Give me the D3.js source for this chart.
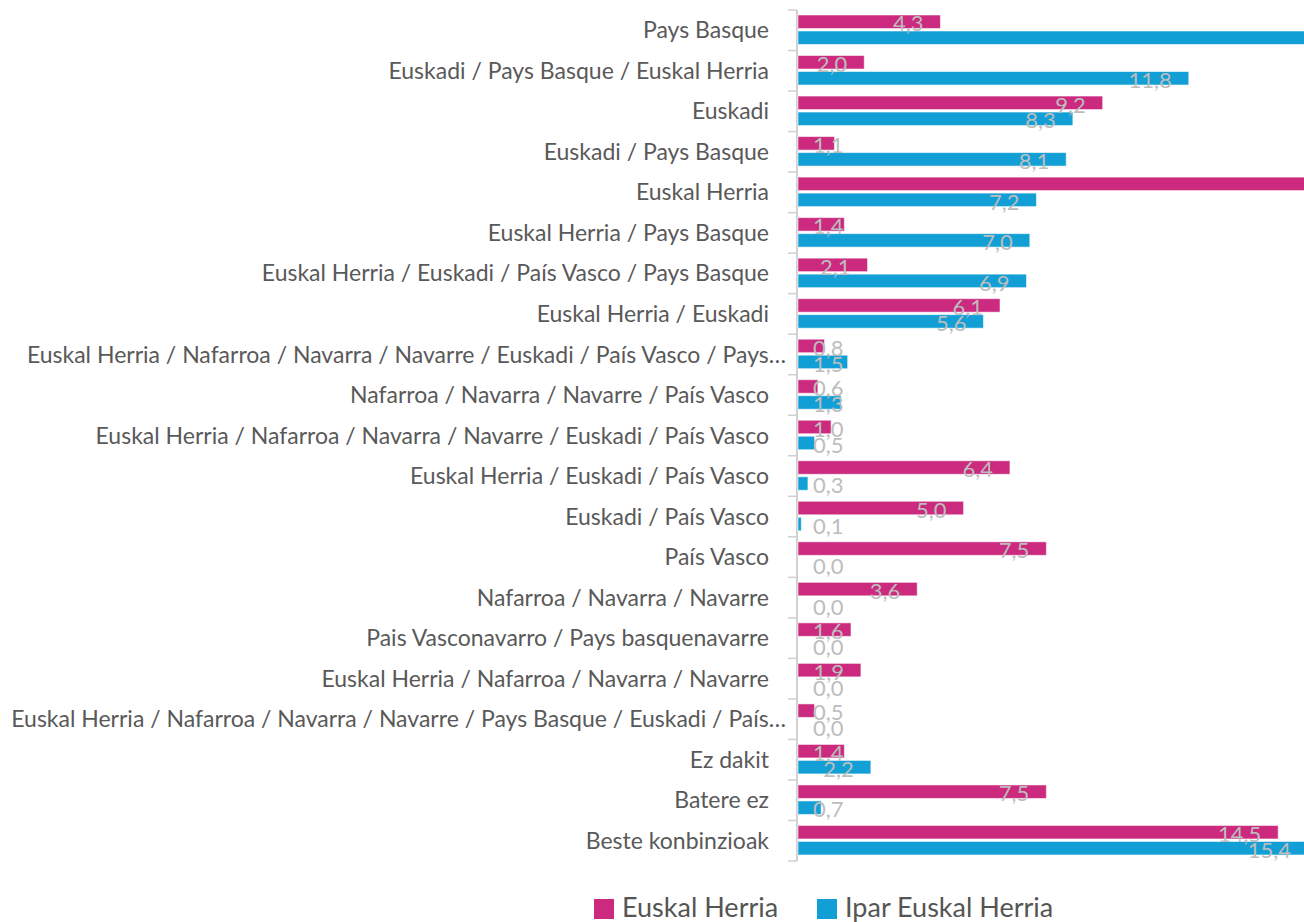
<!DOCTYPE html>
<html>
<head>
<meta charset="utf-8">
<script src="https://cdn.jsdelivr.net/npm/d3@7"></script>
<style>
  body { margin: 0; background: #fff; }
  svg { display: block; font-family: Lato, "Open Sans", sans-serif; }
</style>
</head>
<body>
<svg id="chart" width="1304" height="922"></svg>
<script>
var categories = [
  "Pays Basque",
  "Euskadi / Pays Basque / Euskal Herria",
  "Euskadi",
  "Euskadi / Pays Basque",
  "Euskal Herria",
  "Euskal Herria / Pays Basque",
  "Euskal Herria / Euskadi / País Vasco / Pays Basque",
  "Euskal Herria / Euskadi",
  "Euskal Herria / Nafarroa / Navarra / Navarre / Euskadi / País Vasco / Pays…",
  "Nafarroa / Navarra / Navarre / País Vasco",
  "Euskal Herria / Nafarroa / Navarra / Navarre / Euskadi / País Vasco",
  "Euskal Herria / Euskadi / País Vasco",
  "Euskadi / País Vasco",
  "País Vasco",
  "Nafarroa / Navarra / Navarre",
  "Pais Vasconavarro / Pays basquenavarre",
  "Euskal Herria / Nafarroa / Navarra / Navarre",
  "Euskal Herria / Nafarroa / Navarra / Navarre / Pays Basque / Euskadi / País…",
  "Ez dakit",
  "Batere ez",
  "Beste konbinzioak"
];
var seriesNames = ["Euskal Herria", "Ipar Euskal Herria"];
// values beyond the visible range (labels hidden) are estimates
var euskalHerria = [4.3, 2.0, 9.2, 1.1, 18.6, 1.4, 2.1, 6.1, 0.8, 0.6, 1.0, 6.4, 5.0, 7.5, 3.6, 1.6, 1.9, 0.5, 1.4, 7.5, 14.5];
var iparEuskalHerria = [19.5, 11.8, 8.3, 8.1, 7.2, 7.0, 6.9, 5.6, 1.5, 1.3, 0.5, 0.3, 0.1, 0.0, 0.0, 0.0, 0.0, 0.0, 2.2, 0.7, 15.4];
var colors = ["#cb2a7f", "#119fd6"];

(function () {
  var svg = d3.select("#chart"),
    left = 797, marginTop = 10, plotBottom = 861, plotRight = 1304;

  var data = categories.map(function (c, i) {
    return {cat: c, values: [euskalHerria[i], iparEuskalHerria[i]]};
  });

  var x = d3.scaleLinear().domain([0, 15.4]).range([0, 510]);
  var y = d3.scaleBand().domain(categories).range([marginTop, plotBottom]).paddingInner(0).paddingOuter(0);
  var inner = d3.scaleBand().domain(seriesNames).range([5, 34.5]).paddingInner(0.156);

  var fmt = function (v) { return d3.format(".1f")(v).replace(".", ","); };

  svg.append("clipPath").attr("id", "plotclip")
    .append("rect").attr("x", left).attr("y", 0).attr("width", plotRight - left).attr("height", 922);

  // axis line + ticks at band boundaries
  var axis = svg.append("g").attr("stroke", "#d0d0d0");
  axis.append("line")
    .attr("x1", left).attr("x2", left).attr("y1", marginTop).attr("y2", plotBottom)
    .attr("stroke-width", 2);
  axis.selectAll(".tick")
    .data(d3.range(categories.length + 1))
    .enter().append("line")
      .attr("x1", left - 9).attr("x2", left)
      .attr("y1", function (i) { return marginTop + i * y.step(); })
      .attr("y2", function (i) { return marginTop + i * y.step(); })
      .attr("stroke-width", 1.5);

  // category labels (truncated ones run closer to the axis)
  svg.append("g").selectAll("text")
    .data(categories)
    .enter().append("text")
      .attr("x", function (d) { return /…$/.test(d) ? 786 : 769; })
      .attr("y", function (d) { return y(d) + y.bandwidth() / 2; })
      .attr("dy", "0.35em")
      .attr("text-anchor", "end")
      .attr("fill", "#595959")
      .style("font-size", "23px")
      .text(function (d) { return d; });

  var rows = svg.append("g").selectAll(".row")
    .data(data)
    .enter().append("g")
      .attr("class", "row")
      .attr("transform", function (d) { return "translate(0," + y(d.cat) + ")"; });

  rows.append("g").attr("clip-path", "url(#plotclip)")
    .selectAll("rect")
    .data(function (d) { return d.values; })
    .enter().append("rect")
      .attr("x", left + 1)
      .attr("y", function (v, i) { return inner(seriesNames[i]); })
      .attr("width", function (v) { return x(v); })
      .attr("height", inner.bandwidth())
      .attr("fill", function (v, i) { return colors[i]; })
      .attr("stroke", "rgba(255,255,255,0.55)")
      .attr("stroke-width", 1);

  rows.selectAll(".val")
    .data(function (d) { return d.values; })
    .enter().append("text")
      .attr("class", "val")
      .attr("y", function (v, i) { return inner(seriesNames[i]) + inner.bandwidth() / 2 + 2; })
      .attr("dy", "0.35em")
      .attr("fill", "#bdbdbd")
      .style("font-size", "22px")
      .text(function (v) { return fmt(v); })
      .attr("x", function (v) {
        var w = this.getComputedTextLength();
        return left + Math.max(16, x(v) - 16 - w);
      })
      .style("display", function (v) { return left + x(v) - 16 > plotRight ? "none" : null; });

  // legend
  var legend = svg.append("g").attr("transform", "translate(594,899)");
  var items = legend.selectAll("g")
    .data(seriesNames)
    .enter().append("g")
      .attr("transform", function (d, i) { return "translate(" + (i * 223) + ",0)"; });
  items.append("rect")
    .attr("width", 20).attr("height", 20)
    .attr("fill", function (d, i) { return colors[i]; });
  items.append("text")
    .attr("x", 28).attr("y", 9).attr("dy", "0.35em")
    .attr("fill", "#555")
    .style("font-size", "27px")
    .text(function (d) { return d; });
})();
</script>
</body>
</html>
